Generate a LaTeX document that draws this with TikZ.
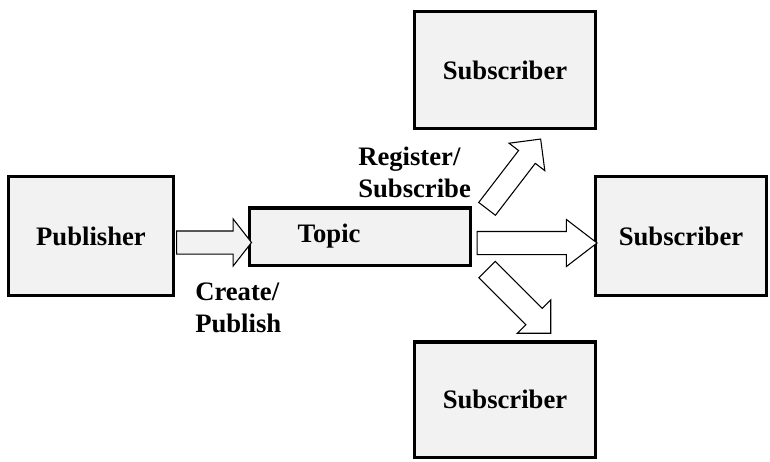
\documentclass[tikz,border=0pt]{standalone}
\usepackage{fontspec}
\setmainfont{Liberation Serif}
\usetikzlibrary{calc,shapes.arrows}
\definecolor{boxgray}{HTML}{F2F2F2}
\tikzset{
  box/.style={draw, line width=2.6pt, fill=boxgray, inner sep=0pt},
  blockarrow/.style={shape=single arrow, draw, line width=0.8pt, fill=white, inner xsep=0pt,
    inner ysep=8.25pt, anchor=tail, single arrow head extend=9pt},
  caption/.style={align=left, inner sep=0pt, anchor=base west}
}
\begin{document}
\begin{tikzpicture}[x=0.75pt, y=-0.75pt, font=\fontsize{20}{23.5}\selectfont\bfseries]
\useasboundingbox (0, 0) rectangle (770, 461);
\node[box, minimum width=123.4pt, minimum height=88.9pt] (pub) at (91, 236) {Publisher};
\node[box, minimum width=165.4pt, minimum height=43.1pt, text width=165.4pt] (topic) at (360, 236.5) {\hspace*{36pt}Topic};
\node[box, minimum width=135.4pt, minimum height=87.4pt] (subtop) at (505, 70) {Subscriber};
\node[box, minimum width=127.9pt, minimum height=88.9pt] (subright) at (681, 236) {Subscriber};
\node[box, minimum width=135.4pt, minimum height=86.6pt] (subbottom) at (505, 399.5) {Subscriber};
\node[blockarrow, fill=boxgray, minimum height=56.25pt, single arrow tip angle=104] (create) at ($(pub.east)+(1, 6.5)$) {};
\node[blockarrow, minimum height=90pt, single arrow tip angle=75] (toright) at ($(topic.east)+(4.5, 6.5)$) {};
\node[blockarrow, inner ysep=7.5pt, minimum height=66pt, rotate=52.5] (totop) at ($(topic.north east)+(14.75, 3.25)$) {};
\node[blockarrow, minimum height=67.5pt, rotate=-45] (tobottom) at ($(topic.south east)+(14.75, 2.25)$) {};
\node[caption] (register) at (358, 197) {Register/\\Subscribe};
\node[caption] (publish) at (195, 332) {Create/\\Publish};
\end{tikzpicture}
\end{document}
